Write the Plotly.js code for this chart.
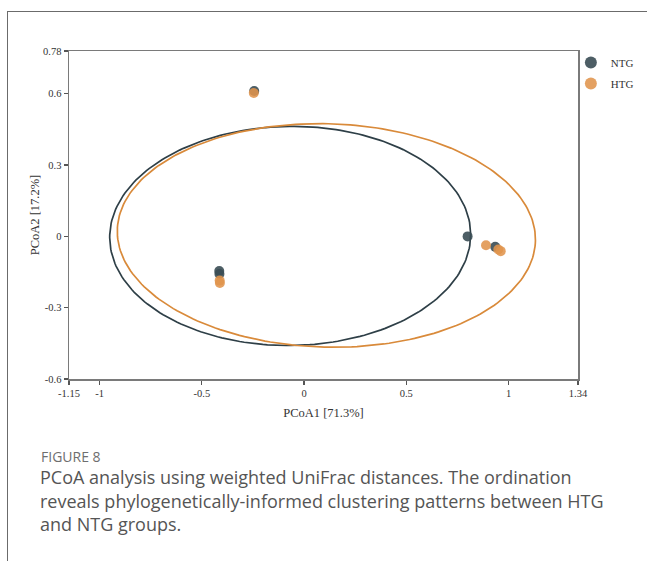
<!DOCTYPE html>
<html>
<head>
<meta charset="utf-8">
<script src="https://cdn.plot.ly/plotly-3.0.1.min.js"></script>
<style>
  html, body { margin: 0; padding: 0; background: #fff; }
  #wrap { position: relative; width: 647px; height: 561px; overflow: hidden; }
  #frame { position: absolute; left: 7px; top: 11px; width: 660px; height: 600px;
           border-top: 1.5px solid #6b6b6b; border-left: 1.5px solid #6b6b6b; pointer-events: none; }
  #chart { position: absolute; left: 0; top: 0; width: 647px; height: 561px; }
</style>
</head>
<body>
<div id="wrap">
  <div id="chart"></div>
  <div id="frame"></div>
</div>
<script>
// ---- data ----
const groups = ["NTG", "HTG"];
const ntgX = [-0.244, -0.415, -0.414, 0.800, 0.935];
const ntgY = [0.612, -0.146, -0.158, 0.000, -0.044];
const htgX = [-0.246, -0.413, -0.412, 0.890, 0.950, 0.962];
const htgY = [0.603, -0.186, -0.196, -0.037, -0.055, -0.062];

// confidence ellipse parameters: [centerX, centerY, semiX, semiY, angleDeg]
const ntgEllipse = [-0.068, 0.002, 0.883, 0.461, 0.5];
const htgEllipse = [0.109, 0.004, 1.023, 0.470, -1.2];

const xTicks = [-1.15, -1, -0.5, 0, 0.5, 1, 1.34];
const xTickText = ["-1.15", "-1", "-0.5", "0", "0.5", "1", "1.34"];
const yTicks = [-0.6, -0.3, 0, 0.3, 0.6, 0.78];
const yTickText = ["-0.6", "-0.3", "0", "0.3", "0.6", "0.78"];

const xTitle = "PCoA1 [71.3%]";
const yTitle = "PCoA2 [17.2%]";
const figLabel = "FIGURE 8";
const captionLines = [
  "PCoA analysis using weighted UniFrac distances. The ordination",
  "reveals phylogenetically-informed clustering patterns between HTG",
  "and NTG groups."
];

const colors = { NTG: "#3a4c54", HTG: "#e0944c" };
const lineColors = { NTG: "#2e3f47", HTG: "#d98a3a" };

function ellipse(p) {
  const [cx, cy, a, b, deg] = p;
  const th = deg * Math.PI / 180;
  const xs = [], ys = [];
  for (let i = 0; i <= 240; i++) {
    const t = 2 * Math.PI * i / 240;
    const ex = a * Math.cos(t), ey = b * Math.sin(t);
    xs.push(cx + ex * Math.cos(th) - ey * Math.sin(th));
    ys.push(cy + ex * Math.sin(th) + ey * Math.cos(th));
  }
  return { xs, ys };
}

const eN = ellipse(ntgEllipse), eH = ellipse(htgEllipse);

const traces = [
  { x: eN.xs, y: eN.ys, mode: "lines", line: { color: lineColors.NTG, width: 1.7 }, showlegend: false, hoverinfo: "skip" },
  { x: eH.xs, y: eH.ys, mode: "lines", line: { color: lineColors.HTG, width: 1.7 }, showlegend: false, hoverinfo: "skip" },
  { x: ntgX, y: ntgY, name: groups[0], legendgroup: "g1", mode: "markers", marker: { color: colors.NTG, size: 10, opacity: 0.9 } },
  { x: htgX, y: htgY, name: groups[1], legendgroup: "g2", mode: "markers", marker: { color: colors.HTG, size: 10, opacity: 0.88 } }
];

const serif = "Liberation Serif, Times New Roman, serif";
const axisCommon = {
  showgrid: false, zeroline: false, showline: true, mirror: true,
  linecolor: "#7a7a7a", linewidth: 1.5,
  ticks: "outside", ticklen: 4, tickwidth: 1.2, tickcolor: "#555",
  tickfont: { family: serif, size: 10.5, color: "#333" }
};

const annotations = [
  { text: figLabel, xref: "paper", yref: "paper", x: (39 - 69) / 509, y: -(456 - 379) / 328,
    xanchor: "left", yanchor: "middle", showarrow: false,
    font: { family: "Open Sans, sans-serif", size: 14, color: "#6e6e6e" } }
];
captionLines.forEach((ln, i) => {
  annotations.push({ text: ln, xref: "paper", yref: "paper", x: (38 - 69) / 509, y: -(477 + i * 23.5 - 379) / 328,
    xanchor: "left", yanchor: "middle", showarrow: false,
    font: { family: "Open Sans, sans-serif", size: 18, color: "#555" } });
});

const layout = {
  width: 647, height: 561,
  margin: { l: 69, r: 69, t: 51, b: 182, pad: 0, autoexpand: false },
  paper_bgcolor: "#fff", plot_bgcolor: "#fff",
  xaxis: Object.assign({}, axisCommon, {
    range: [-1.15, 1.34], tickvals: xTicks, ticktext: xTickText,
    title: { text: xTitle, font: { family: serif, size: 12.5, color: "#333" }, standoff: 10 }
  }),
  yaxis: Object.assign({}, axisCommon, {
    range: [-0.6, 0.78], tickvals: yTicks, ticktext: yTickText,
    title: { text: yTitle, font: { family: serif, size: 12.5, color: "#333" }, standoff: 0 }
  }),
  showlegend: true,
  legend: { x: 0.986, y: 1.009, xanchor: "left", yanchor: "top", itemsizing: "constant",
            tracegroupgap: 2,
            font: { family: serif, size: 11, color: "#333" }, bgcolor: "rgba(0,0,0,0)" },
  annotations: annotations
};

Plotly.newPlot("chart", traces, layout, { displayModeBar: false, staticPlot: true });
</script>
</body>
</html>
